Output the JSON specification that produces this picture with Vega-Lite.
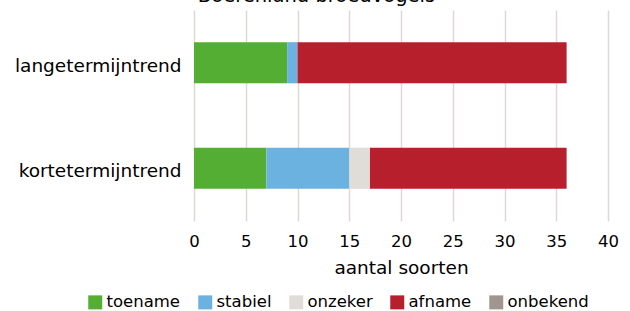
{
  "$schema": "https://vega.github.io/schema/vega-lite/v6.json",
  "autosize": "none",
  "width": 414,
  "height": 211,
  "padding": {"left": 194, "top": 10, "right": 22, "bottom": 90},
  "background": "white",
  "title": {"text": "Boerenland broedvogels", "frame": "bounds", "anchor": "middle", "offset": 4, "fontSize": 19.5, "fontWeight": "normal", "font": "DejaVu Sans", "color": "#000000"},
  "config": {"view": {"stroke": null}, "font": "DejaVu Sans"},
  "data": {"values": [
    {"trend": "langetermijntrend", "categorie": "toename", "nr": 1, "aantal": 9},
    {"trend": "langetermijntrend", "categorie": "stabiel", "nr": 2, "aantal": 1},
    {"trend": "langetermijntrend", "categorie": "onzeker", "nr": 3, "aantal": 0},
    {"trend": "langetermijntrend", "categorie": "afname", "nr": 4, "aantal": 26},
    {"trend": "kortetermijntrend", "categorie": "toename", "nr": 1, "aantal": 7},
    {"trend": "kortetermijntrend", "categorie": "stabiel", "nr": 2, "aantal": 8},
    {"trend": "kortetermijntrend", "categorie": "onzeker", "nr": 3, "aantal": 2},
    {"trend": "kortetermijntrend", "categorie": "afname", "nr": 4, "aantal": 19}
  ]},
  "mark": {"type": "bar"},
  "encoding": {
    "y": {"field": "trend", "type": "nominal", "sort": ["langetermijntrend", "kortetermijntrend"],
      "scale": {"paddingInner": 0.61, "paddingOuter": 0.305},
      "axis": {"title": null, "ticks": false, "domain": false, "labelPadding": 13, "labelOffset": 3, "labelFontSize": 18.5, "labelColor": "#000000", "labelFont": "DejaVu Sans"}},
    "x": {"field": "aantal", "type": "quantitative", "stack": "zero",
      "scale": {"domain": [0, 40], "nice": false},
      "axis": {"title": "aantal soorten", "values": [0,5,10,15,20,25,30,35,40], "labelFlush": false, "domain": false, "ticks": false, "labelPadding": 12, "labelFontSize": 16.5, "labelColor": "#000000", "labelFont": "DejaVu Sans", "titleFontSize": 18.5, "titleFontWeight": "normal", "titleColor": "#000000", "titleFont": "DejaVu Sans", "titlePadding": 9, "grid": true, "gridColor": "#DED9D5", "gridWidth": 1.5}},
    "color": {"field": "categorie", "type": "nominal",
      "scale": {"domain": ["toename", "stabiel", "onzeker", "afname", "onbekend"], "range": ["#53AE33", "#6CB2E1", "#E0DCD8", "#B81F2C", "#A0968F"]},
      "legend": {"title": null, "orient": "none", "legendX": -107, "legendY": 284, "direction": "horizontal", "symbolType": "square", "symbolSize": 196, "symbolStrokeWidth": 0, "symbolOpacity": 1, "labelFontSize": 16.5, "labelColor": "#000000", "labelFont": "DejaVu Sans", "labelOffset": 3, "columnPadding": 16}},
    "order": {"field": "nr", "type": "quantitative"}
  }
}
